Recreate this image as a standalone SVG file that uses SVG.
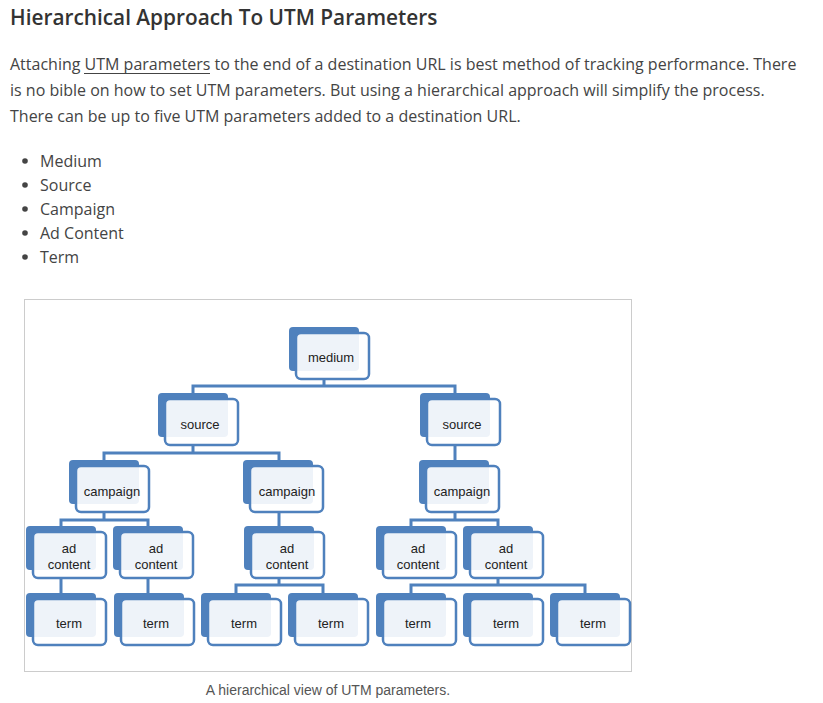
<svg xmlns="http://www.w3.org/2000/svg" width="823" height="703" viewBox="0 0 823 703">
<style>
.h{font-family:"Open Sans","Liberation Sans",sans-serif;font-weight:600;font-size:20.8px;fill:#333}
.p{font-family:"Open Sans","Liberation Sans",sans-serif;font-size:16px;fill:#444}
.cap{font-family:"Liberation Sans",Arial,sans-serif;font-size:14px;fill:#555;text-anchor:middle}
.bk{fill:#4F81BD}
.fr{fill:#fff;fill-opacity:0.9;stroke:#4F81BD;stroke-width:2.5}
.t{font-family:"Liberation Sans",Arial,sans-serif;font-size:13px;fill:#222;text-anchor:middle}
.c{fill:none;stroke:#4F81BD;stroke-width:3}
</style>
<defs>
<g id="box">
<rect class="bk" x="-7" y="-6" width="70" height="44" rx="4"/>
<rect class="fr" x="0" y="0" width="73" height="46" rx="5"/>
</g>
</defs>
<rect width="823" height="703" fill="#fff"/>
<text class="h" x="10" y="25">Hierarchical Approach To UTM Parameters</text>
<text class="p" x="10" y="70">Attaching UTM parameters to the end of a destination URL is best method of tracking performance. There</text>
<line x1="84" y1="73.5" x2="210" y2="73.5" stroke="#444" stroke-width="1"/>
<text class="p" x="10" y="96">is no bible on how to set UTM parameters. But using a hierarchical approach will simplify the process.</text>
<text class="p" x="10" y="122">There can be up to five UTM parameters added to a destination URL.</text>
<g fill="#444">
<circle cx="25" cy="161" r="2.8"/><circle cx="25" cy="185" r="2.8"/><circle cx="25" cy="209" r="2.8"/><circle cx="25" cy="233" r="2.8"/><circle cx="25" cy="257" r="2.8"/>
</g>
<text class="p" x="40" y="167">Medium</text>
<text class="p" x="40" y="191">Source</text>
<text class="p" x="40" y="215">Campaign</text>
<text class="p" x="40" y="239">Ad Content</text>
<text class="p" x="40" y="263">Term</text>
<rect x="24.5" y="299.5" width="607" height="372" fill="#fff" stroke="#ccc" stroke-width="1"/>
<g id="connectors" class="c">
<path d="M324 379V386M193 393V386H455V393"/>
<path d="M193 445V453M104 460V453H279V460"/>
<path d="M455 445V460"/>
<path d="M104 512V520M61 526V520H148V526"/>
<path d="M279 512V526"/>
<path d="M455 512V520M411 526V520H498V526"/>
<path d="M61 578V593"/>
<path d="M148 578V593"/>
<path d="M279 578V585M236 593V585H323V593"/>
<path d="M498 578V585M411 593V585H585V593"/>
</g>
<g id="medium"><use href="#box" x="296" y="333"/><text class="t" x="331" y="362">medium</text></g>
<g id="source1"><use href="#box" x="165" y="399"/><text class="t" x="200" y="429">source</text></g>
<g id="source2"><use href="#box" x="427" y="399"/><text class="t" x="462" y="429">source</text></g>
<g id="campaign1"><use href="#box" x="76" y="466"/><text class="t" x="112" y="496">campaign</text></g>
<g id="campaign2"><use href="#box" x="250" y="466"/><text class="t" x="287" y="496">campaign</text></g>
<g id="campaign3"><use href="#box" x="426" y="466"/><text class="t" x="462" y="496">campaign</text></g>
<g id="ad1"><use href="#box" x="33" y="532"/><text class="t" x="69" y="553">ad</text><text class="t" x="69" y="569">content</text></g>
<g id="ad2"><use href="#box" x="120" y="532"/><text class="t" x="156" y="553">ad</text><text class="t" x="156" y="569">content</text></g>
<g id="ad3"><use href="#box" x="251" y="532"/><text class="t" x="287" y="553">ad</text><text class="t" x="287" y="569">content</text></g>
<g id="ad4"><use href="#box" x="383" y="532"/><text class="t" x="418" y="553">ad</text><text class="t" x="418" y="569">content</text></g>
<g id="ad5"><use href="#box" x="470" y="532"/><text class="t" x="506" y="553">ad</text><text class="t" x="506" y="569">content</text></g>
<g id="term1"><use href="#box" x="33" y="599"/><text class="t" x="69" y="628">term</text></g>
<g id="term2"><use href="#box" x="121" y="599"/><text class="t" x="156" y="628">term</text></g>
<g id="term3"><use href="#box" x="208" y="599"/><text class="t" x="244" y="628">term</text></g>
<g id="term4"><use href="#box" x="295" y="599"/><text class="t" x="331" y="628">term</text></g>
<g id="term5"><use href="#box" x="383" y="599"/><text class="t" x="418" y="628">term</text></g>
<g id="term6"><use href="#box" x="470" y="599"/><text class="t" x="506" y="628">term</text></g>
<g id="term7"><use href="#box" x="557" y="599"/><text class="t" x="593" y="628">term</text></g>
<text class="cap" x="328" y="695">A hierarchical view of UTM parameters.</text>
</svg>
